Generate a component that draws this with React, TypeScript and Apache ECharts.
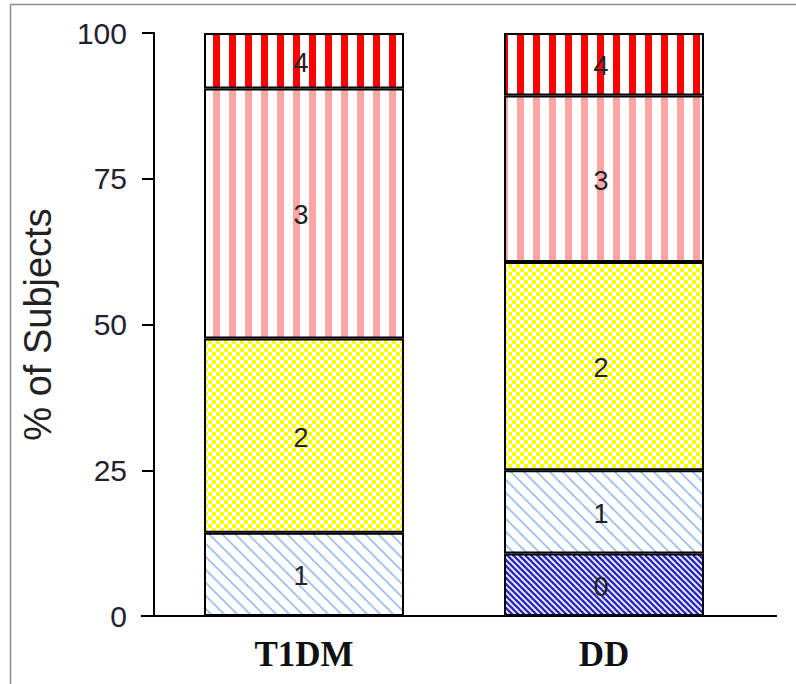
import React, { useEffect, useRef } from "react";
import * as echarts from "echarts";

const categories = ["T1DM", "DD"];
const scoreNames = ["0", "1", "2", "3", "4"];
const score0 = [0, 10.7];
const score1 = [14.3, 14.3];
const score2 = [33.3, 35.7];
const score3 = [42.9, 28.6];
const score4 = [9.5, 10.7];
const yMin = 0;
const yMax = 100;
const yInterval = 25;

function makeCanvas(w: number, h: number) {
  const c = document.createElement("canvas");
  c.width = w;
  c.height = h;
  const ctx = c.getContext("2d")!;
  return { c, ctx };
}

function toPattern(c: HTMLCanvasElement) {
  return { image: c, repeat: "repeat", imageWidth: c.width, imageHeight: c.height };
}

function stripePattern(color: string, period: number, width: number, offset: number) {
  const { c, ctx } = makeCanvas(period, 4);
  ctx.fillStyle = "#ffffff";
  ctx.fillRect(0, 0, period, 4);
  ctx.fillStyle = color;
  ctx.fillRect(offset, 0, width, 4);
  return toPattern(c);
}

function diagPattern(color: string, period: number, lw: number) {
  const { c, ctx } = makeCanvas(period, period);
  ctx.fillStyle = "#ffffff";
  ctx.fillRect(0, 0, period, period);
  ctx.strokeStyle = color;
  ctx.lineWidth = lw;
  for (let k = -1; k <= 1; k++) {
    ctx.beginPath();
    ctx.moveTo(k * period - 1, -1);
    ctx.lineTo(k * period + period + 1, period + 1);
    ctx.stroke();
  }
  return toPattern(c);
}

function checkerPattern(bg: string, fg: string) {
  const { c, ctx } = makeCanvas(8, 8);
  ctx.fillStyle = bg;
  ctx.fillRect(0, 0, 8, 8);
  ctx.fillStyle = fg;
  ctx.fillRect(0, 0, 4, 4);
  ctx.fillRect(4, 4, 4, 4);
  return toPattern(c);
}

export default function App() {
  const ref = useRef<HTMLDivElement>(null);

  useEffect(() => {
    document.body.style.margin = "0";
    if (!ref.current) return;
    const chart = echarts.init(ref.current, undefined, { renderer: "svg" });

    const patterns = [
      diagPattern("#2b2bc0", 6, 2.6),
      diagPattern("#9fbff0", 13, 1.8),
      checkerPattern("#ffff00", "#ffffff"),
      stripePattern("#ffa3a3", 16, 7, 5),
      stripePattern("#ff0000", 16, 7, 5),
    ];
    // per-bar horizontal phase of the fill pattern
    const phase = [0, -3];
    const values = [score0, score1, score2, score3, score4];

    const series = scoreNames.map((name, i) => ({
      name,
      type: "bar",
      stack: "total",
      barWidth: 200,
      data: values[i].map((v, j) => ({
        value: v,
        itemStyle: { color: { ...patterns[i], x: phase[j] } },
      })),
      itemStyle: {
        borderColor: "#000000",
        borderWidth: 2,
      },
      emphasis: { disabled: true },
      label: {
        show: true,
        position: "inside",
        offset: [-3, 2],
        formatter: (p: any) => (p.value > 0 ? p.seriesName : ""),
        fontSize: 27,
        color: "#222222",
        fontFamily: "Liberation Sans, Arial, sans-serif",
      },
    }));

    chart.setOption({
      animation: false,
      backgroundColor: "#ffffff",
      grid: { left: 154, right: 42, top: 33, bottom: 68 },
      xAxis: {
        type: "category",
        data: categories,
        axisLine: { lineStyle: { color: "#000", width: 2 } },
        axisTick: { alignWithLabel: true, length: 10, lineStyle: { color: "#000", width: 2 } },
        axisLabel: {
          margin: 21,
          fontSize: 35,
          fontWeight: "bold",
          color: "#111111",
          fontFamily: "Liberation Serif, Times New Roman, serif",
        },
      },
      yAxis: {
        type: "value",
        min: yMin,
        max: yMax,
        interval: yInterval,
        name: "% of Subjects",
        nameLocation: "middle",
        nameGap: 97,
        nameTextStyle: {
          fontSize: 38,
          color: "#222222",
          fontFamily: "Liberation Sans, Arial, sans-serif",
        },
        splitLine: { show: false },
        axisLine: { show: true, lineStyle: { color: "#000", width: 2 } },
        axisTick: { show: true, length: 12, lineStyle: { color: "#000", width: 2 } },
        axisLabel: {
          margin: 27,
          fontSize: 30,
          color: "#1f2233",
          fontFamily: "Liberation Sans, Arial, sans-serif",
        },
      },
      graphic: [
        { type: "line", shape: { x1: 10.5, y1: 4.5, x2: 796, y2: 4.5 }, style: { stroke: "#8c8c8c", lineWidth: 1.5 } },
        { type: "line", shape: { x1: 10.5, y1: 4.5, x2: 10.5, y2: 684 }, style: { stroke: "#8c8c8c", lineWidth: 1.5 } },
        { type: "line", shape: { x1: 141, y1: 616, x2: 155, y2: 616 }, style: { stroke: "#000", lineWidth: 2 } },
        { type: "line", shape: { x1: 753, y1: 616, x2: 777, y2: 616 }, style: { stroke: "#000", lineWidth: 2 } },
      ],
      series,
    });

    return () => chart.dispose();
  }, []);

  return <div ref={ref} style={{ width: 796, height: 684 }} />;
}
